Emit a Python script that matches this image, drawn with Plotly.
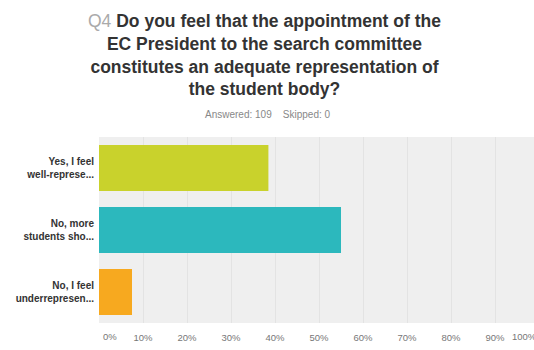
import plotly.graph_objects as go

categories = ["Yes, I feel<br>well-represe...", "No, more<br>students sho...", "No, I feel<br>underrepresen..."]
values = [38.5, 55.0, 7.5]
colors = ["#c9d22c", "#2cb8bd", "#f7a91f"]
tick_vals = [10, 20, 30, 40, 50, 60, 70, 80, 90]
tick_text = [f"{v}%" for v in tick_vals]
title_lines = ["Do you feel that the appointment of the", "EC President to the search committee",
               "constitutes an adequate representation of", "the student body?"]

W, H = 534, 350
L, R, T, B = 99, 0, 137, 27
px_per = 4.4
xmax = (W - L - R) / px_per
PH = H - T - B

def ypaper(py):
    return (H - B - py) / PH

fig = go.Figure(go.Bar(
    y=categories, x=values, orientation="h",
    marker=dict(color=colors, line=dict(width=0)),
    hoverinfo="skip",
))

fig.update_layout(
    width=W, height=H,
    margin=dict(l=L, r=R, t=T, b=B, pad=0),
    paper_bgcolor="white", plot_bgcolor="#efefef",
    bargap=0.26, showlegend=False,
    font=dict(family="Liberation Sans, Arial", color="#333"),
)
title_text = ("<span style='color:#aaa;font-weight:normal'>Q4</span> " + title_lines[0] + "<br>"
              + "<br>".join(title_lines[1:]))
fig.add_annotation(text=title_text, xref="paper", yref="paper",
                   x=(264 - L) / (W - L), y=ypaper(9), xanchor="center", yanchor="top",
                   showarrow=False, align="center",
                   font=dict(size=17.5, color="#333", weight="bold"))
fig.update_xaxes(
    range=[0, xmax], tickvals=tick_vals, ticktext=tick_text,
    showgrid=True, gridcolor="#e3e3e3", gridwidth=1, zeroline=False,
    tickfont=dict(size=9.5, color="#777"), ticks="", showline=False, fixedrange=True,
    ticklabelstandoff=7,
)
fig.update_yaxes(
    autorange="reversed", showgrid=False, ticks="", showline=False,
    tickfont=dict(size=10, color="#333", weight="bold"), ticklabelstandoff=4,
)
fig.add_annotation(text="Answered: 109    Skipped: 0", xref="paper", yref="paper",
                   x=(268 - L) / (W - L), y=ypaper(114),
                   xanchor="center", yanchor="middle", showarrow=False,
                   font=dict(size=10, color="#888"))
fig.add_annotation(text="0%", xref="x", yref="paper", x=0, y=ypaper(336),
                   xanchor="left", yanchor="middle", xshift=2, showarrow=False,
                   font=dict(size=9.5, color="#777"))
fig.add_annotation(text="100%", xref="paper", yref="paper", x=100 / xmax, y=ypaper(336),
                   xanchor="right", yanchor="middle", showarrow=False,
                   font=dict(size=9.5, color="#777"))

fig.write_html("out.html")
